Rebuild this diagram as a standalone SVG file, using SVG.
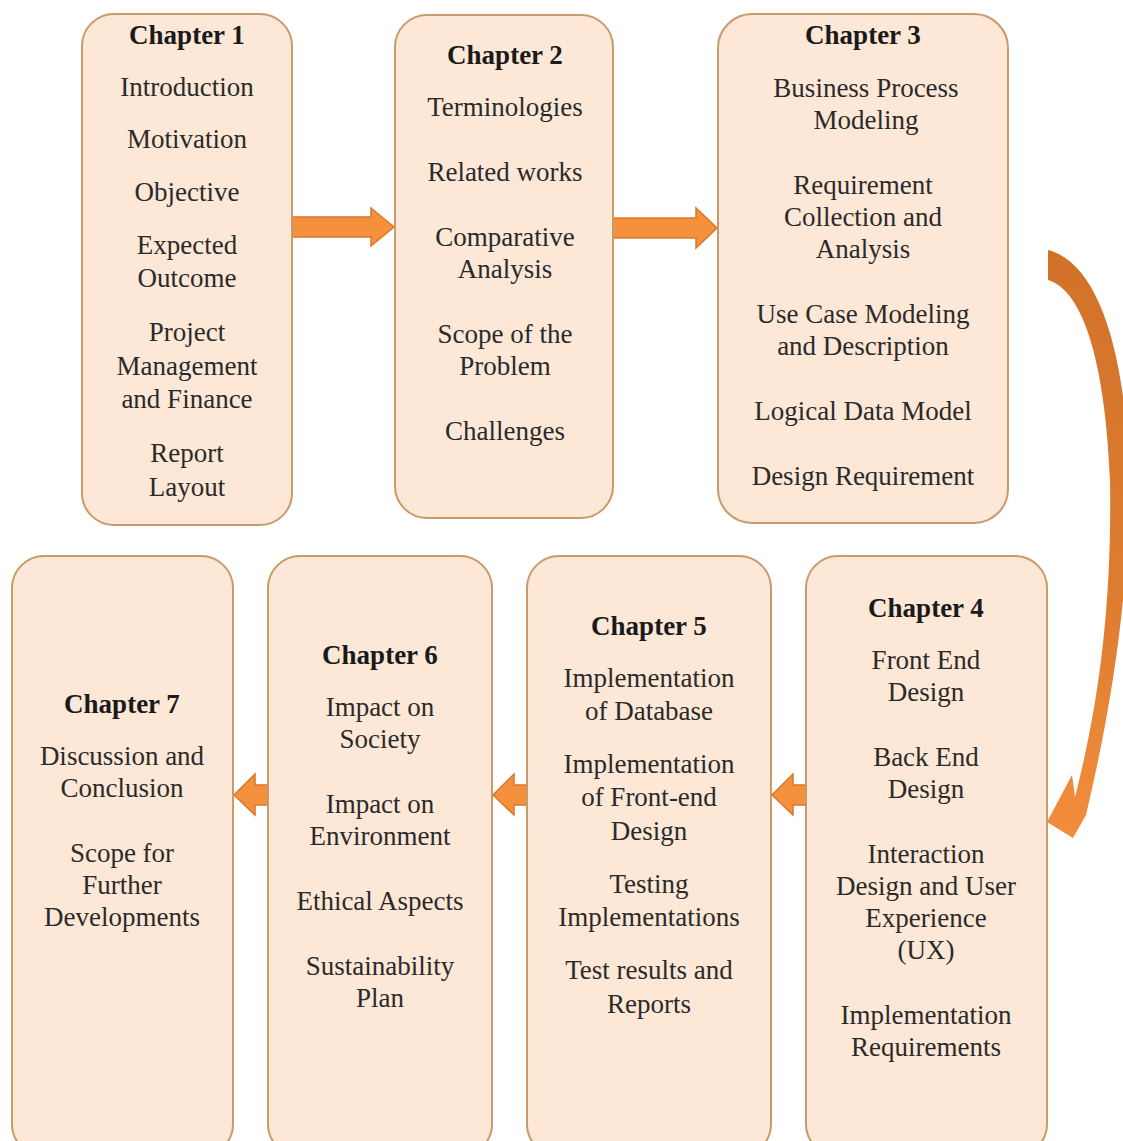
<svg xmlns="http://www.w3.org/2000/svg" width="1123" height="1141" viewBox="0 0 1123 1141">
<style>
.box{fill:#fde7d6;stroke:#c99a6a;stroke-width:2}
text{font-family:'Liberation Serif','DejaVu Serif',serif;font-size:27px;fill:#2a2a2a;text-anchor:middle}
.h{font-weight:bold;fill:#1a1a1a}
.arr{fill:#f5913c;stroke:#d9772c;stroke-width:1.5}
</style>
<defs>
<linearGradient id="cg" x1="0" y1="0" x2="0" y2="1">
<stop offset="0" stop-color="#d2722a"/>
<stop offset="0.6" stop-color="#de7d30"/>
<stop offset="1" stop-color="#f28d3c"/>
</linearGradient>
</defs>
<rect width="1123" height="1141" fill="#ffffff"/>
<g id="connectors">
<path class="arr" d="M292,217 L371,217 L371,208 L394,227 L371,246 L371,237 L292,237 Z"/>
<path class="arr" d="M613,218 L696,218 L696,208 L717,228 L696,248 L696,238 L613,238 Z"/>
<path class="arr" d="M806,785 L793,785 L793,774 L772,795 L793,815 L793,805 L806,805 Z"/>
<path class="arr" d="M527,785 L514,785 L514,774 L493,795 L514,815 L514,805 L527,805 Z"/>
<path class="arr" d="M268,785 L255,785 L255,774 L234,795 L255,815 L255,805 L268,805 Z"/>
<path fill="url(#cg)" d="M1048,250 C1095,262 1122,340 1128,450 C1132,560 1118,680 1086,815 L1073,838 L1047,822 L1072,775 L1075,797 C1100,700 1112,600 1110,480 C1106,380 1088,292 1048,280 Z"/>
</g>
<g id="ch1">
<rect class="box" x="82" y="14" width="210" height="511" rx="32"/>
<text class="h" x="187" y="44">Chapter 1</text>
<text x="187" y="96">Introduction</text>
<text x="187" y="148">Motivation</text>
<text x="187" y="201">Objective</text>
<text x="187" y="254">Expected</text>
<text x="187" y="287">Outcome</text>
<text x="187" y="341">Project</text>
<text x="187" y="375">Management</text>
<text x="187" y="408">and Finance</text>
<text x="187" y="462">Report</text>
<text x="187" y="496">Layout</text>
</g>
<g id="ch2">
<rect class="box" x="395" y="15" width="218" height="503" rx="32"/>
<text class="h" x="505" y="64">Chapter 2</text>
<text x="505" y="116">Terminologies</text>
<text x="505" y="181">Related works</text>
<text x="505" y="246">Comparative</text>
<text x="505" y="278">Analysis</text>
<text x="505" y="343">Scope of the</text>
<text x="505" y="375">Problem</text>
<text x="505" y="440">Challenges</text>
</g>
<g id="ch3">
<rect class="box" x="718" y="14" width="290" height="509" rx="34"/>
<text class="h" x="863" y="44">Chapter 3</text>
<text x="866" y="97">Business Process</text>
<text x="866" y="129">Modeling</text>
<text x="863" y="194">Requirement</text>
<text x="863" y="226">Collection and</text>
<text x="863" y="258">Analysis</text>
<text x="863" y="323">Use Case Modeling</text>
<text x="863" y="355">and Description</text>
<text x="863" y="420">Logical Data Model</text>
<text x="863" y="485">Design Requirement</text>
</g>
<g id="ch4">
<rect class="box" x="806" y="556" width="241" height="600" rx="32"/>
<text class="h" x="926" y="617">Chapter 4</text>
<text x="926" y="669">Front End</text>
<text x="926" y="701">Design</text>
<text x="926" y="766">Back End</text>
<text x="926" y="798">Design</text>
<text x="926" y="863">Interaction</text>
<text x="926" y="895">Design and User</text>
<text x="926" y="927">Experience</text>
<text x="926" y="959">(UX)</text>
<text x="926" y="1024">Implementation</text>
<text x="926" y="1056">Requirements</text>
</g>
<g id="ch5">
<rect class="box" x="527" y="556" width="244" height="600" rx="32"/>
<text class="h" x="649" y="635">Chapter 5</text>
<text x="649" y="687">Implementation</text>
<text x="649" y="720">of Database</text>
<text x="649" y="773">Implementation</text>
<text x="649" y="806">of Front-end</text>
<text x="649" y="840">Design</text>
<text x="649" y="893">Testing</text>
<text x="649" y="926">Implementations</text>
<text x="649" y="979">Test results and</text>
<text x="649" y="1013">Reports</text>
</g>
<g id="ch6">
<rect class="box" x="268" y="556" width="224" height="600" rx="32"/>
<text class="h" x="380" y="664">Chapter 6</text>
<text x="380" y="716">Impact on</text>
<text x="380" y="748">Society</text>
<text x="380" y="813">Impact on</text>
<text x="380" y="845">Environment</text>
<text x="380" y="910">Ethical Aspects</text>
<text x="380" y="975">Sustainability</text>
<text x="380" y="1007">Plan</text>
</g>
<g id="ch7">
<rect class="box" x="12" y="556" width="221" height="600" rx="32"/>
<text class="h" x="122" y="713">Chapter 7</text>
<text x="122" y="765">Discussion and</text>
<text x="122" y="797">Conclusion</text>
<text x="122" y="862">Scope for</text>
<text x="122" y="894">Further</text>
<text x="122" y="926">Developments</text>
</g>
</svg>
